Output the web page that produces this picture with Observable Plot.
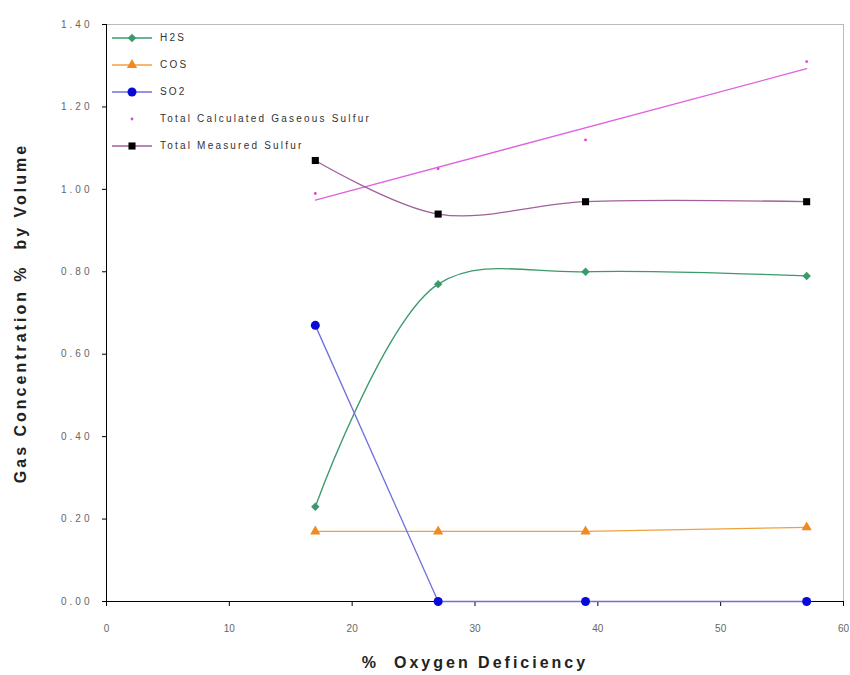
<!DOCTYPE html>
<html>
<head>
<meta charset="utf-8">
<script src="https://cdn.jsdelivr.net/npm/d3@7"></script>
<script src="https://cdn.jsdelivr.net/npm/@observablehq/plot@0.6"></script>
<style>
  body { margin: 0; background: #fff; }
  #wrap { position: relative; width: 850px; height: 675px; font-family: "Liberation Sans", Arial, sans-serif; }
  #legend { position: absolute; left: 112px; top: 24px; }
  .item { display: flex; align-items: center; height: 27px; font-size: 10px; letter-spacing: 2.2px; color: #333; }
  .item svg { margin-right: 6px; }
</style>
</head>
<body>
<div id="wrap"><div id="legend"></div></div>
<script>
const oxygenDeficiency = [17, 27, 39, 57];
const h2s = [0.23, 0.77, 0.80, 0.79];
const cos = [0.17, 0.17, 0.17, 0.18];
const so2 = [0.67, 0.00, 0.00, 0.00];
const totalCalculated = [0.99, 1.05, 1.12, 1.31];
const totalMeasured = [1.07, 0.94, 0.97, 0.97];
const xTicks = [0, 10, 20, 30, 40, 50, 60];
const yTicks = [0, 0.2, 0.4, 0.6, 0.8, 1.0, 1.2, 1.4];

const series = [
  {name: "H2S", values: h2s, line: "#3a9a6a", fill: "#3a9a6a", symbol: "diamond2", r: 3.8, curve: "catmull-rom"},
  {name: "COS", values: cos, line: "#f0a040", fill: "#f08a20", symbol: "triangle", r: 3.8, curve: "linear"},
  {name: "SO2", values: so2, line: "#6f6fe0", fill: "#0a0ad8", symbol: "circle", r: 4.5, curve: "linear"},
  {name: "Total Calculated Gaseous Sulfur", values: totalCalculated, line: null, fill: "#e040e0", symbol: "circle", r: 1.4},
  {name: "Total Measured Sulfur", values: totalMeasured, line: "#a0609a", fill: "#000", symbol: "square", r: 4.0, curve: "catmull-rom"}
];
const rows = s => oxygenDeficiency.map((x, i) => ({x, y: s.values[i]}));
const calcRows = rows(series[3]);

const marks = [
  Plot.frame({stroke: "#bbb"}),
  Plot.ruleY([0], {stroke: "#000"}),
  Plot.ruleX([0], {stroke: "#000"}),
  Plot.axisX({ticks: xTicks, tickSize: 5, tickPadding: 18, tickFormat: d3.format("d"),
    fontSize: 10, fill: "#666", label: "%  Oxygen Deficiency", labelArrow: "none", labelAnchor: "center", labelOffset: 66}),
  Plot.axisY({ticks: yTicks, tickSize: 4, tickPadding: 10, tickFormat: d3.format(".2f"),
    fontSize: 10, fill: "#666", label: "Gas Concentration %  by Volume", labelArrow: "none", labelAnchor: "center", labelOffset: 92}),
  Plot.linearRegressionY(calcRows, {x: "x", y: "y", stroke: "#e060e0", strokeWidth: 1.3, ci: 0})
];
for (const s of series) {
  if (s.line) marks.push(Plot.line(rows(s), {x: "x", y: "y", stroke: s.line, strokeWidth: 1.3, curve: s.curve}));
}
for (const s of series) {
  marks.push(Plot.dot(rows(s), {x: "x", y: "y", symbol: s.symbol, r: s.r, fill: s.fill, stroke: "none"}));
}

const chart = Plot.plot({
  width: 850, height: 675,
  marginLeft: 106, marginRight: 7, marginTop: 24, marginBottom: 74,
  x: {domain: [0, 60]},
  y: {domain: [0, 1.4]},
  style: {fontFamily: "'Liberation Sans', Arial, sans-serif", background: "#fff"},
  marks
});
d3.select(chart).selectAll("[aria-label='x-axis label'] text, [aria-label='y-axis label'] text")
  .style("font-size", "16px").style("font-weight", "bold").style("letter-spacing", "3px").style("fill", "#222");
d3.select(chart).selectAll("[aria-label='y-axis tick label'] text")
  .style("letter-spacing", "3px");
document.getElementById("wrap").prepend(chart);

const symbols = {diamond2: d3.symbolDiamond2, triangle: d3.symbolTriangle, square: d3.symbolSquare, circle: d3.symbolCircle};
const legend = document.getElementById("legend");
for (const s of series) {
  const item = document.createElement("div");
  item.className = "item";
  const sym = d3.symbol(symbols[s.symbol], Math.PI * s.r * s.r)();
  item.innerHTML = `<svg width="42" height="12">${s.line ? `<line x1="0" x2="40" y1="6" y2="6" stroke="${s.line}" stroke-width="1.5"/>` : ""}<path d="${sym}" transform="translate(20,6)" fill="${s.fill}"/></svg><span>${s.name}</span>`;
  legend.appendChild(item);
}
</script>
</body>
</html>
